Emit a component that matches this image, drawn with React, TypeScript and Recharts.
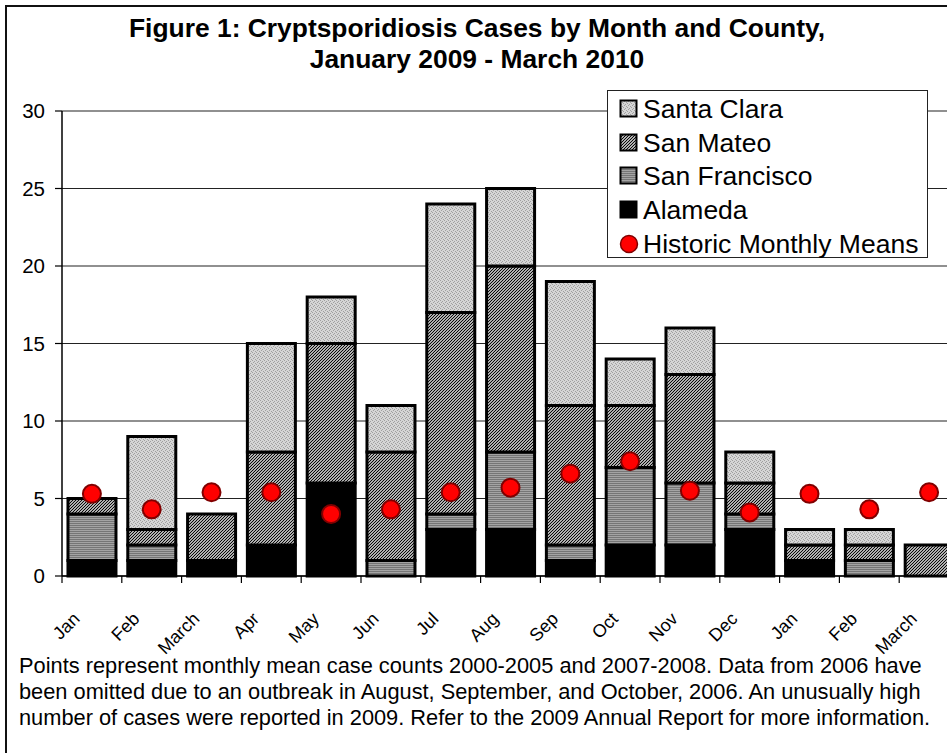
import React from 'react';
import { ComposedChart, Bar, Line, XAxis, YAxis, CartesianGrid, Legend } from 'recharts';

// Jan 2009 - March 2010
const months = ['Jan', 'Feb', 'March', 'Apr', 'May', 'Jun', 'Jul', 'Aug', 'Sep', 'Oct', 'Nov', 'Dec', 'Jan', 'Feb', 'March'];
const alameda = [1, 1, 1, 2, 6, 0, 3, 3, 1, 2, 2, 3, 1, 0, 0];
const sanFrancisco = [3, 1, 0, 0, 0, 1, 1, 5, 1, 5, 4, 1, 0, 1, 0];
const sanMateo = [1, 1, 3, 6, 9, 7, 13, 12, 9, 4, 7, 2, 1, 1, 2];
const santaClara = [0, 6, 0, 7, 3, 3, 7, 5, 8, 3, 3, 2, 1, 1, 0];
const historicMeans = [5.3, 4.3, 5.4, 5.4, 4.0, 4.3, 5.4, 5.7, 6.6, 7.4, 5.5, 4.1, 5.3, 4.3, 5.4];
const yTicks = [0, 5, 10, 15, 20, 25, 30];

const data = months.map((m, i) => ({
  key: String(i),
  alameda: alameda[i],
  sanFrancisco: sanFrancisco[i],
  sanMateo: sanMateo[i],
  santaClara: santaClara[i],
  mean: historicMeans[i],
}));

const FONT = 'Arial, "Liberation Sans", sans-serif';
const CHART_W = 965;
const CHART_H = 753;
const MARGIN = { top: 111, right: 6, bottom: 176, left: 0 };
const X_H = 1;
const Y_W = 62;
const PLOT_W = CHART_W - MARGIN.right - MARGIN.left - Y_W;
const BAND = PLOT_W / months.length;

const MonthTick = (props: any) => {
  const { x, y, payload } = props;
  const i = payload.index;
  const left = x - BAND / 2;
  return (
    <g>
      <line x1={left} y1={y} x2={left} y2={y + 7} stroke="#000" strokeWidth={1.2} />
      {i === months.length - 1 && (
        <line x1={x + BAND / 2} y1={y} x2={x + BAND / 2} y2={y + 7} stroke="#000" strokeWidth={1.2} />
      )}
      <text
        transform={`translate(${x - 11},${y + 44}) rotate(-45)`}
        textAnchor="end"
        fontSize={18}
        fontFamily={FONT}
        fill="#000"
      >
        {months[i]}
      </text>
    </g>
  );
};

const legendItems = [
  { name: 'Santa Clara', fill: 'url(#pSC)' },
  { name: 'San Mateo', fill: 'url(#pSM)' },
  { name: 'San Francisco', fill: 'url(#pSF)' },
  { name: 'Alameda', fill: '#000' },
];

const LegendBox = () => (
  <div
    style={{
      width: 321,
      height: 168,
      border: '1px solid #222',
      background: '#fff',
      fontFamily: FONT,
      fontSize: 26.5,
      color: '#000',
      boxSizing: 'border-box',
      paddingLeft: 11,
      paddingTop: 1,
    }}
  >
    {legendItems.map((it) => (
      <div key={it.name} style={{ display: 'flex', alignItems: 'center', height: 33.7 }}>
        <svg width={20} height={20} style={{ marginRight: 4 }}>
          <rect x={1.5} y={1.5} width={16} height={16} fill={it.fill} stroke="#000" strokeWidth={2} />
        </svg>
        <span style={{ lineHeight: '30px' }}>{it.name}</span>
      </div>
    ))}
    <div style={{ display: 'flex', alignItems: 'center', height: 33.7 }}>
      <svg width={20} height={20} style={{ marginRight: 4 }}>
        <circle cx={10} cy={10} r={8.5} fill="#ff0000" stroke="#800000" strokeWidth={1.5} />
      </svg>
      <span style={{ lineHeight: '30px' }}>Historic Monthly Means</span>
    </div>
  </div>
);

export default function App() {
  return (
    <div
      style={{
        position: 'fixed',
        left: 0,
        top: 0,
        width: 947,
        height: 753,
        overflow: 'hidden',
        background: '#fff',
      }}
    >
      <div
        style={{
          position: 'absolute',
          left: 5,
          top: 5,
          width: 1200,
          height: 1000,
          borderLeft: '2px solid #111',
          borderTop: '2px solid #111',
        }}
      />
      <div
        style={{
          position: 'absolute',
          left: 0,
          top: 13,
          width: 954,
          textAlign: 'center',
          fontFamily: FONT,
          fontWeight: 'bold',
          fontSize: 26.4,
          lineHeight: '31px',
          color: '#000',
        }}
      >
        Figure 1: Cryptsporidiosis Cases by Month and County,
        <br />
        January 2009 - March 2010
      </div>
      <div style={{ position: 'absolute', left: 0, top: 0 }}>
        <ComposedChart width={CHART_W} height={CHART_H} data={data} margin={MARGIN} barCategoryGap="10%">
          <defs>
            <pattern id="pSC" width={4} height={4} patternUnits="userSpaceOnUse">
              <rect width={4} height={4} fill="#d6d6d6" />
              <rect x={0} y={0} width={1} height={1} fill="#a0a0a0" />
              <rect x={2} y={1} width={1} height={1} fill="#a0a0a0" />
              <rect x={1} y={2} width={1} height={1} fill="#a0a0a0" />
              <rect x={3} y={3} width={1} height={1} fill="#a0a0a0" />
            </pattern>
            <pattern id="pSM" width={3} height={3} patternUnits="userSpaceOnUse">
              <rect width={3} height={3} fill="#fff" />
              <path d="M0,3 L3,0 M-1,1 L1,-1 M2,4 L4,2" stroke="#000" strokeWidth={1.2} />
            </pattern>
            <pattern id="pSF" width={4} height={2} patternUnits="userSpaceOnUse">
              <rect width={4} height={2} fill="#a4a4a4" />
              <rect y={1} width={4} height={1} fill="#767676" />
            </pattern>
          </defs>
          <CartesianGrid vertical={false} stroke="#222" strokeWidth={1.2} />
          <XAxis
            dataKey="key"
            height={X_H}
            tick={<MonthTick />}
            tickLine={false}
            tickSize={0}
            tickMargin={0}
            interval={0}
            axisLine={{ stroke: '#000', strokeWidth: 1.5 }}
          />
          <YAxis
            width={Y_W}
            domain={[0, 30]}
            ticks={yTicks}
            interval={0}
            tickSize={7}
            tickMargin={10}
            tickLine={{ stroke: '#000', strokeWidth: 1.2 }}
            axisLine={{ stroke: '#000', strokeWidth: 1.5 }}
            tick={{ fontSize: 20.5, fontFamily: FONT, fill: '#000' }}
          />
          <Legend
            layout="vertical"
            verticalAlign="middle"
            align="center"
            wrapperStyle={{ position: 'absolute', left: 607, top: 90, width: 321, height: 168 }}
            content={() => <LegendBox />}
          />
          <Bar dataKey="alameda" name="Alameda" stackId="a" fill="#000" stroke="#000" strokeWidth={3} isAnimationActive={false} />
          <Bar dataKey="sanFrancisco" name="San Francisco" stackId="a" fill="url(#pSF)" stroke="#000" strokeWidth={3} isAnimationActive={false} />
          <Bar dataKey="sanMateo" name="San Mateo" stackId="a" fill="url(#pSM)" stroke="#000" strokeWidth={3} isAnimationActive={false} />
          <Bar dataKey="santaClara" name="Santa Clara" stackId="a" fill="url(#pSC)" stroke="#000" strokeWidth={3} isAnimationActive={false} />
          <Line
            dataKey="mean"
            name="Historic Monthly Means"
            stroke="none"
            dot={{ r: 9, fill: '#ff0000', stroke: '#800000', strokeWidth: 2 }}
            activeDot={false}
            isAnimationActive={false}
          />
        </ComposedChart>
      </div>
      <div
        style={{
          position: 'absolute',
          left: 19,
          top: 653,
          fontFamily: FONT,
          fontSize: 21.8,
          lineHeight: '26px',
          color: '#000',
          whiteSpace: 'nowrap',
        }}
      >
        Points represent monthly mean case counts 2000-2005 and 2007-2008. Data from 2006 have
        <br />
        been omitted due to an outbreak in August, September, and October, 2006. An unusually high
        <br />
        number of cases were reported in 2009. Refer to the 2009 Annual Report for more information.
      </div>
    </div>
  );
}
